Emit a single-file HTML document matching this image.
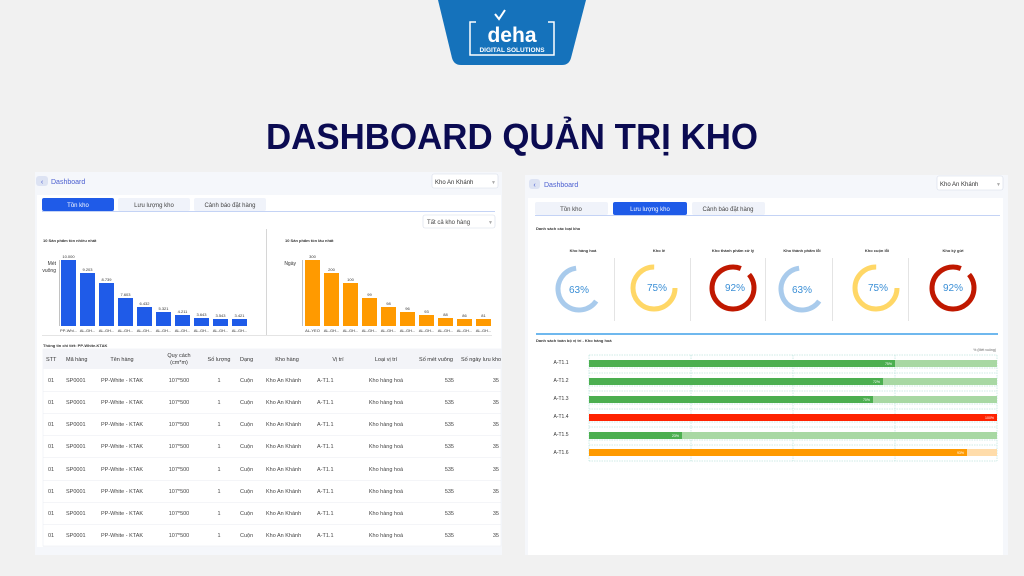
<!DOCTYPE html>
<html><head><meta charset="utf-8"><style>
html,body{margin:0;padding:0;background:#f1f1f1;}
svg{display:block;font-family:"Liberation Sans","Noto Sans CJK JP",sans-serif;}
</style></head><body>
<svg width="1024" height="576" viewBox="0 0 1024 576" xmlns="http://www.w3.org/2000/svg">
<rect width="1024" height="576" fill="#f1f1f1"/>
<!-- logo -->
<path d="M438 0 H586 L571 58 Q569 65 562 65 H461 Q454 65 452 58 Z" fill="#1572bb"/>
<rect x="470" y="22" width="84" height="33" fill="none" stroke="#fff" stroke-width="1.5"/>
<rect x="476" y="20" width="72" height="5" fill="#1572bb"/>
<text x="512" y="42" text-anchor="middle" fill="#fff" font-size="21" font-weight="bold">deha</text>
<path d="M495 14 L499 19 L505 10" stroke="#fff" stroke-width="2" fill="none"/>
<text x="512" y="52" text-anchor="middle" fill="#fff" font-size="6.5" font-weight="bold">DIGITAL SOLUTIONS</text>
<!-- title -->
<text x="512" y="149" text-anchor="middle" fill="#0b0b52" font-size="36" font-weight="bold" textLength="492" lengthAdjust="spacingAndGlyphs">DASHBOARD QUẢN TRỊ KHO</text>

<!-- LEFT PANEL -->
<rect x="35" y="172" width="467" height="383" fill="#f5f7fb"/>
<rect x="36" y="176" width="12" height="10" rx="3" fill="#dde3f3"/>
<text x="42" y="184" text-anchor="middle" font-size="7" fill="#4a5ed0">‹</text>
<text x="51" y="184" font-size="7" fill="#4a5ed0">Dashboard</text>
<rect x="432" y="174" width="66" height="14" rx="2" fill="#fff" stroke="#d5dbe8" stroke-width="0.6"/>
<text x="435" y="184" font-size="6" fill="#333">Kho An Khánh</text>
<text x="491" y="184" font-size="5" fill="#aaa">▼</text>
<rect x="37" y="195" width="464" height="352" fill="#fff"/>
<rect x="42" y="198" width="72" height="13" rx="2" fill="#1f5be8"/>
<text x="78" y="207" text-anchor="middle" font-size="6" fill="#fff">Tồn kho</text>
<rect x="118" y="198" width="72" height="13" rx="2" fill="#f0f3fa"/>
<text x="154" y="207" text-anchor="middle" font-size="6" fill="#444">Lưu lượng kho</text>
<rect x="194" y="198" width="72" height="13" rx="2" fill="#f0f3fa"/>
<text x="230" y="207" text-anchor="middle" font-size="6" fill="#444">Cảnh báo đặt hàng</text>
<rect x="42" y="211" width="453" height="1" fill="#c4d3f5"/>
<rect x="423" y="215" width="72" height="13" rx="2" fill="#fff" stroke="#d5dbe8" stroke-width="0.6"/>
<text x="427" y="224" font-size="6" fill="#444">Tất cả kho hàng</text>
<text x="488" y="224" font-size="5" fill="#aaa">▼</text>
<rect x="266" y="229" width="0.8" height="106" fill="#ccc"/>
<text x="43" y="242" font-size="4" font-weight="bold" fill="#333">10 Sản phẩm tồn nhiều nhất</text>
<text x="285" y="242" font-size="4" font-weight="bold" fill="#333">10 Sản phẩm tồn lâu nhất</text>
<text x="56" y="265" text-anchor="end" font-size="5" fill="#333">Mét</text>
<text x="56" y="272" text-anchor="end" font-size="5" fill="#333">vuông</text>
<rect x="59" y="260" width="0.6" height="66" fill="#999"/>
<text x="296" y="265" text-anchor="end" font-size="5" fill="#333">Ngày</text>
<rect x="302" y="260" width="0.6" height="66" fill="#999"/>
<g fill="#1f5be8">
<rect x="61" y="260" width="15" height="66"/><rect x="80" y="273" width="15" height="53"/><rect x="99" y="283" width="15" height="43"/><rect x="118" y="298" width="15" height="28"/><rect x="137" y="307" width="15" height="19"/><rect x="156" y="312" width="15" height="14"/><rect x="175" y="315" width="15" height="11"/><rect x="194" y="318" width="15" height="8"/><rect x="213" y="319" width="15" height="7"/><rect x="232" y="319" width="15" height="7"/>
</g>
<g font-size="4" fill="#333" text-anchor="middle">
<text x="68.5" y="258">10.000</text><text x="87.5" y="271">9.203</text><text x="106.5" y="281">8.739</text><text x="125.5" y="296">7.603</text><text x="144.5" y="305">6.432</text><text x="163.5" y="310">5.321</text><text x="182.5" y="313">4.211</text><text x="201.5" y="316">3.643</text><text x="220.5" y="317">3.543</text><text x="239.5" y="317">3.421</text>
<text x="68.5" y="332">PP-Whi...</text><text x="87.5" y="332">AL-GH...</text><text x="106.5" y="332">AL-GH...</text><text x="125.5" y="332">AL-GH...</text><text x="144.5" y="332">AL-GH...</text><text x="163.5" y="332">AL-GH...</text><text x="182.5" y="332">AL-GH...</text><text x="201.5" y="332">AL-GH...</text><text x="220.5" y="332">AL-GH...</text><text x="239.5" y="332">AL-GH...</text>
</g>
<g fill="#ff9a00">
<rect x="305" y="260" width="15" height="66"/><rect x="324" y="273" width="15" height="53"/><rect x="343" y="283" width="15" height="43"/><rect x="362" y="298" width="15" height="28"/><rect x="381" y="307" width="15" height="19"/><rect x="400" y="312" width="15" height="14"/><rect x="419" y="315" width="15" height="11"/><rect x="438" y="318" width="15" height="8"/><rect x="457" y="319" width="15" height="7"/><rect x="476" y="319" width="15" height="7"/>
</g>
<g font-size="4" fill="#333" text-anchor="middle">
<text x="312.5" y="258">300</text><text x="331.5" y="271">200</text><text x="350.5" y="281">100</text><text x="369.5" y="296">99</text><text x="388.5" y="305">98</text><text x="407.5" y="310">96</text><text x="426.5" y="313">93</text><text x="445.5" y="316">88</text><text x="464.5" y="317">86</text><text x="483.5" y="317">81</text>
<text x="312.5" y="332">AL-YEO</text><text x="331.5" y="332">AL-GH...</text><text x="350.5" y="332">AL-GH...</text><text x="369.5" y="332">AL-GH...</text><text x="388.5" y="332">AL-GH...</text><text x="407.5" y="332">AL-GH...</text><text x="426.5" y="332">AL-GH...</text><text x="445.5" y="332">AL-GH...</text><text x="464.5" y="332">AL-GH...</text><text x="483.5" y="332">AL-GH...</text>
</g>
<rect x="42" y="335" width="450" height="0.8" fill="#ddd"/>
<text x="43" y="347" font-size="4" font-weight="bold" fill="#333">Thông tin chi tiết: PP-White-KTAK</text>
<rect x="43" y="349" width="458" height="197" fill="#fff" stroke="#eceef3" stroke-width="0.6"/>
<rect x="43" y="349" width="458" height="20" fill="#f3f4f8"/>
<g font-size="5.5" fill="#333">
<text x="46" y="361">STT</text><text x="66" y="361">Mã hàng</text><text x="122" y="361" text-anchor="middle">Tên hàng</text>
<text x="179" y="357" text-anchor="middle">Quy cách</text><text x="179" y="364" text-anchor="middle">(cm*m)</text>
<text x="219" y="361" text-anchor="middle">Số lượng</text><text x="240" y="361">Dạng</text><text x="287" y="361" text-anchor="middle">Kho hàng</text>
<text x="338" y="361" text-anchor="middle">Vị trí</text><text x="386" y="361" text-anchor="middle">Loại vị trí</text>
<text x="436" y="361" text-anchor="middle">Số mét vuông</text><text x="461" y="361">Số ngày lưu kho</text>
</g>
<g id="row" font-size="5.5" fill="#444">
<text x="48" y="382">01</text><text x="66" y="382">SP0001</text><text x="101" y="382">PP-White - KTAK</text><text x="179" y="382" text-anchor="middle">107*500</text>
<text x="219" y="382" text-anchor="middle">1</text><text x="240" y="382">Cuộn</text><text x="266" y="382">Kho An Khánh</text><text x="317" y="382">A-T1.1</text>
<text x="386" y="382" text-anchor="middle">Kho hàng hoá</text><text x="454" y="382" text-anchor="end">535</text><text x="499" y="382" text-anchor="end">35</text>
<rect x="43" y="391" width="458" height="0.6" fill="#eceef3"/>
</g>
<use href="#row" y="22"/><use href="#row" y="44"/><use href="#row" y="66"/><use href="#row" y="89"/><use href="#row" y="111"/><use href="#row" y="133"/><use href="#row" y="155"/>

<!-- RIGHT PANEL -->
<rect x="525" y="175" width="483" height="380" fill="#f5f7fb"/>
<rect x="529" y="179" width="11" height="10" rx="3" fill="#dde3f3"/>
<text x="534.5" y="187" text-anchor="middle" font-size="7" fill="#4a5ed0">‹</text>
<text x="544" y="187" font-size="7" fill="#4a5ed0">Dashboard</text>
<rect x="937" y="176" width="66" height="14" rx="2" fill="#fff" stroke="#d5dbe8" stroke-width="0.6"/>
<text x="940" y="186" font-size="6" fill="#333">Kho An Khánh</text>
<text x="996" y="186" font-size="5" fill="#aaa">▼</text>
<rect x="528" y="198" width="475" height="357" fill="#fff"/>
<rect x="535" y="202" width="73" height="13" rx="2" fill="#f0f3fa"/>
<text x="571" y="211" text-anchor="middle" font-size="6" fill="#444">Tồn kho</text>
<rect x="613" y="202" width="74" height="13" rx="2" fill="#1f5be8"/>
<text x="650" y="211" text-anchor="middle" font-size="6" fill="#fff">Lưu lượng kho</text>
<rect x="692" y="202" width="73" height="13" rx="2" fill="#f0f3fa"/>
<text x="728" y="211" text-anchor="middle" font-size="6" fill="#444">Cảnh báo đặt hàng</text>
<rect x="535" y="215" width="465" height="1" fill="#c4d3f5"/>
<text x="536" y="230" font-size="4" font-weight="bold" fill="#333">Danh sách các loại kho</text>
<g font-size="4" font-weight="bold" fill="#333" text-anchor="middle">
<text x="583" y="252">Kho hàng hoá</text><text x="659" y="252">Kho lẻ</text><text x="733" y="252">Kho thành phẩm xử lý</text><text x="802" y="252">Kho thành phẩm lỗi</text><text x="877" y="252">Kho cuộn lỗi</text><text x="953" y="252">Kho ký gửi</text>
</g>
<g fill="#ddd"><rect x="614" y="258" width="0.8" height="63"/><rect x="690" y="258" width="0.8" height="63"/><rect x="765" y="258" width="0.8" height="63"/><rect x="832" y="258" width="0.8" height="63"/><rect x="908" y="258" width="0.8" height="63"/></g>
<g fill="none" stroke-width="5">
<circle cx="579" cy="289" r="21" stroke="#a9cbec" stroke-dasharray="83.1 49" transform="rotate(35 579 289)"/>
<circle cx="654" cy="288" r="21" stroke="#ffd766" stroke-dasharray="99 33" transform="rotate(0 654 288)"/>
<circle cx="733" cy="288" r="21" stroke="#c01800" stroke-dasharray="121.4 11" transform="rotate(-40 733 288)"/>
<circle cx="802" cy="289" r="21" stroke="#a9cbec" stroke-dasharray="83.1 49" transform="rotate(35 802 289)"/>
<circle cx="876" cy="288" r="21" stroke="#ffd766" stroke-dasharray="99 33" transform="rotate(0 876 288)"/>
<circle cx="953" cy="288" r="21" stroke="#c01800" stroke-dasharray="121.4 11" transform="rotate(-40 953 288)"/>
</g>
<g font-size="10" fill="#3b8fd6" text-anchor="middle">
<text x="579" y="293">63%</text><text x="657" y="291">75%</text><text x="735" y="291">92%</text><text x="802" y="293">63%</text><text x="878" y="291">75%</text><text x="953" y="291">92%</text>
</g>
<rect x="536" y="333" width="462" height="2" fill="#6fb8ee"/>
<text x="536" y="342" font-size="4" font-weight="bold" fill="#333">Danh sách toàn bộ vị trí - Kho hàng hoá</text>
<text x="996" y="351" text-anchor="end" font-size="3.5" fill="#666">% (Mét vuông)</text>
<g stroke="#9fd8cf" stroke-width="0.5" stroke-dasharray="1.5 1">
<line x1="589" y1="355" x2="589" y2="461"/><line x1="691" y1="355" x2="691" y2="461"/><line x1="793" y1="355" x2="793" y2="461"/><line x1="895" y1="355" x2="895" y2="461"/><line x1="997" y1="355" x2="997" y2="461"/>
<line x1="589" y1="355" x2="997" y2="355"/><line x1="589" y1="368" x2="997" y2="368"/><line x1="589" y1="373" x2="997" y2="373"/><line x1="589" y1="386" x2="997" y2="386"/><line x1="589" y1="391" x2="997" y2="391"/><line x1="589" y1="404" x2="997" y2="404"/><line x1="589" y1="409" x2="997" y2="409"/><line x1="589" y1="422" x2="997" y2="422"/><line x1="589" y1="427" x2="997" y2="427"/><line x1="589" y1="440" x2="997" y2="440"/><line x1="589" y1="445" x2="997" y2="445"/><line x1="589" y1="461" x2="997" y2="461"/>
</g>
<g font-size="5" fill="#333" text-anchor="middle">
<text x="561" y="364">A-T1.1</text><text x="561" y="382">A-T1.2</text><text x="561" y="400">A-T1.3</text><text x="561" y="418">A-T1.4</text><text x="561" y="436">A-T1.5</text><text x="561" y="454">A-T1.6</text>
</g>
<rect x="589" y="360" width="408" height="7" fill="#a8d8a3"/><rect x="589" y="360" width="306" height="7" fill="#4caf50"/>
<rect x="589" y="378" width="408" height="7" fill="#a8d8a3"/><rect x="589" y="378" width="294" height="7" fill="#4caf50"/>
<rect x="589" y="396" width="408" height="7" fill="#a8d8a3"/><rect x="589" y="396" width="284" height="7" fill="#4caf50"/>
<rect x="589" y="414" width="408" height="7" fill="#ff2200"/>
<rect x="589" y="432" width="408" height="7" fill="#a8d8a3"/><rect x="589" y="432" width="93" height="7" fill="#4caf50"/>
<rect x="589" y="449" width="408" height="7" fill="#ffdcaa"/><rect x="589" y="449" width="378" height="7" fill="#ff9a00"/>
<g font-size="3.5" fill="#fff" text-anchor="end">
<text x="892" y="365">75%</text><text x="880" y="383">72%</text><text x="870" y="401">70%</text><text x="994" y="419">100%</text><text x="679" y="437">23%</text><text x="964" y="454">93%</text>
</g>
</svg>
</body></html>
